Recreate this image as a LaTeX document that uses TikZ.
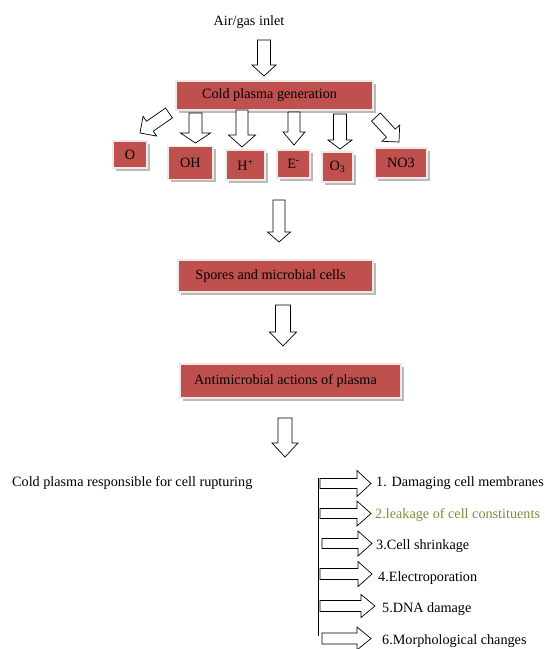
\documentclass[tikz,border=0pt]{standalone}
\usepackage{fontspec}
\setmainfont{Liberation Serif}
\usetikzlibrary{calc,shadows}
\definecolor{boxred}{RGB}{192,80,77}
\definecolor{boxedge}{RGB}{240,232,232}
\definecolor{olivetext}{RGB}{118,146,60}
\newcommand\barrow[5]{%
  \coordinate (ba-h) at ($(#2)!#5!(#1)$);
  \draw[blockarr] ($(#1)!#3!90:(#2)$) -- ($(ba-h)!#3!90:(#2)$) -- ($(ba-h)!#4!90:(#2)$) -- (#2)
    -- ($(ba-h)!#4!-90:(#2)$) -- ($(ba-h)!#3!-90:(#2)$) -- ($(#1)!#3!-90:(#2)$) -- cycle;}
\begin{document}
\begin{tikzpicture}[x=1pt,y=-1pt,
  txt/.style={font=\fontsize{14.2}{16}\selectfont, inner sep=0pt},
  redbox/.style={fill=boxred, draw=boxedge, line width=1.5pt, inner sep=0pt,
    font=\fontsize{14.2}{16}\selectfont,
    drop shadow={shadow xshift=2.5pt, shadow yshift=-2.5pt, fill=gray!55, opacity=1}},
  blockarr/.style={draw=black, fill=white, line width=0.7pt, line join=miter}]
\useasboundingbox (0,0) rectangle (545,649);

% texts
\node[txt] (inlet) at (249,22) {Air/gas inlet};
% boxes
\node[redbox, minimum width=197pt, minimum height=29pt] (cold) at (274.5,95.5) {\hspace*{-10pt}Cold plasma generation};
\node[redbox, minimum width=34pt, minimum height=27pt] (bO) at (130,154.5) {O};
\node[redbox, minimum width=45pt, minimum height=33pt] (bOH) at (190.5,163) {OH};
\node[redbox, minimum width=39pt, minimum height=30pt] (bH) at (245.5,165) {H\textsuperscript{+}};
\node[redbox, minimum width=33pt, minimum height=28pt] (bE) at (293.5,164) {E\textsuperscript{-}};
\node[redbox, minimum width=31pt, minimum height=30pt] (bO3) at (337.5,167) {O\textsubscript{3}};
\node[redbox, minimum width=52pt, minimum height=30pt] (bNO) at (401,163) {NO3};
\node[redbox, minimum width=195pt, minimum height=32pt] (spores) at (275.5,276) {\hspace*{-10pt}Spores and microbial cells};
\node[redbox, minimum width=221pt, minimum height=34pt] (anti) at (290.5,381) {\hspace*{-10pt}Antimicrobial actions of plasma};

\node[txt, anchor=west] (resp) at (12,483) {Cold plasma responsible for cell rupturing};

\node[txt, anchor=west] (l1) at (376,483) {1. Damaging cell membranes};
\node[txt, anchor=west, text=olivetext] (l2) at (375,515) {2.leakage of cell constituents};
\node[txt, anchor=west] (l3) at (376,546) {3.Cell shrinkage};
\node[txt, anchor=west] (l4) at (378,578) {4.Electroporation};
\node[txt, anchor=west] (l5) at (382,609) {5.DNA damage};
\node[txt, anchor=west] (l6) at (382,641) {6.Morphological changes};

% arrow coordinates
\coordinate (a1s) at (264,40);   \coordinate (a1t) at (264,76);
\coordinate (dOs) at (169,113);  \coordinate (dOt) at (140,133);
\coordinate (dOHs) at (195.5,113); \coordinate (dOHt) at (195.5,143);
\coordinate (dHs) at (242,110);  \coordinate (dHt) at (242,147);
\coordinate (dEs) at (294,112);  \coordinate (dEt) at (294,145);
\coordinate (dO3s) at (340,114); \coordinate (dO3t) at (340,149);
\coordinate (dNs) at (376,117);  \coordinate (dNt) at (399,142);
\coordinate (a2s) at (279,200);  \coordinate (a2t) at (279,242);
\coordinate (a3s) at (283,305);  \coordinate (a3t) at (283,346);
\coordinate (a4s) at (285,418);  \coordinate (a4t) at (285,457);

\barrow{a1s}{a1t}{6.5pt}{12pt}{11pt}
\barrow{dOs}{dOt}{6pt}{12pt}{12pt}
\barrow{dOHs}{dOHt}{6.5pt}{15pt}{10pt}
\barrow{dHs}{dHt}{6pt}{13.5pt}{12pt}
\barrow{dEs}{dEt}{6pt}{11pt}{13pt}
\barrow{dO3s}{dO3t}{6.5pt}{12pt}{9pt}
\barrow{dNs}{dNt}{6pt}{12pt}{12pt}
\barrow{a2s}{a2t}{6pt}{11.5pt}{10pt}
\barrow{a3s}{a3t}{7.5pt}{13.5pt}{14pt}
\barrow{a4s}{a4t}{7pt}{13pt}{14pt}

% list
\coordinate (vtop) at (318,478);
\coordinate (vbot) at (318,636);
\draw[line width=0.7pt] (vtop) -- (vbot);
\coordinate (r1s) at (320,483.5); \coordinate (r1t) at (371,483.5);
\coordinate (r2s) at (320,513.5); \coordinate (r2t) at (371,513.5);
\coordinate (r3s) at (322,543.5); \coordinate (r3t) at (372,543.5);
\coordinate (r4s) at (320,574);   \coordinate (r4t) at (372,574);
\coordinate (r5s) at (320,606);   \coordinate (r5t) at (375,606);
\coordinate (r6s) at (322,638.5); \coordinate (r6t) at (371,638.5);
\barrow{r1s}{r1t}{5pt}{13pt}{14pt}
\barrow{r2s}{r2t}{5pt}{12.5pt}{14pt}
\barrow{r3s}{r3t}{5pt}{12.5pt}{14pt}
\barrow{r4s}{r4t}{5.5pt}{12.5pt}{14pt}
\barrow{r5s}{r5t}{5.5pt}{11.5pt}{14pt}
\barrow{r6s}{r6t}{5.5pt}{11.5pt}{14pt}
\end{tikzpicture}
\end{document}
